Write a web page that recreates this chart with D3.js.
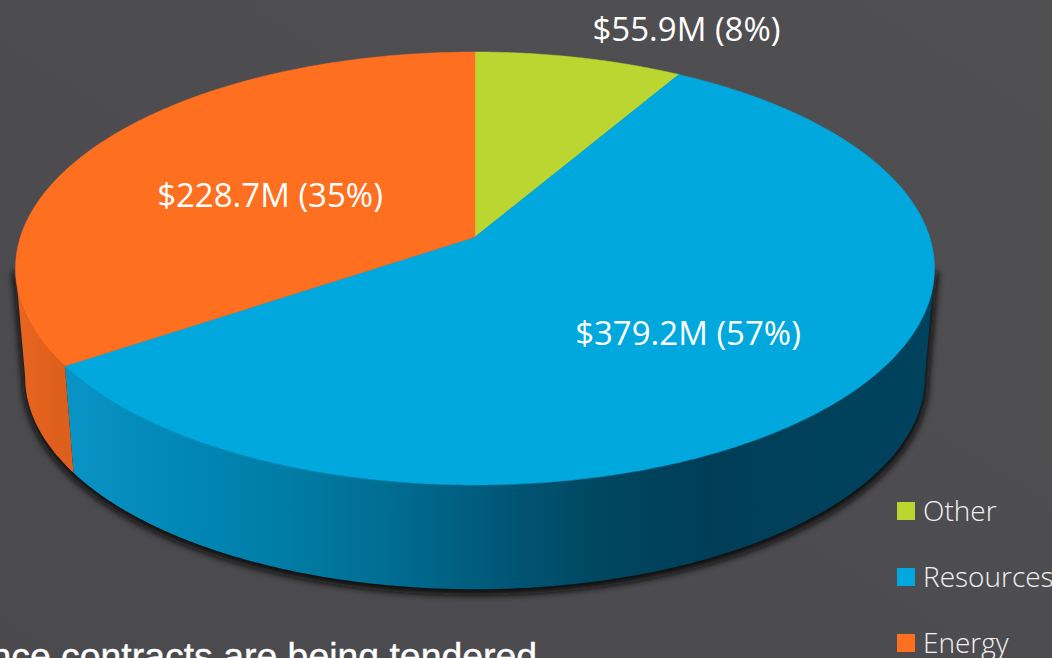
<!DOCTYPE html>
<html><head><meta charset="utf-8">
<script src="https://cdn.jsdelivr.net/npm/d3@7"></script>
<style>html,body{margin:0;padding:0;background:#4d4c50;overflow:hidden}svg{display:block}</style>
</head><body><div id="c"></div>
<script>
const categories = ["Other","Resources","Energy"];
const values = [55.9,379.2,228.7];
const labels = ["$55.9M (8%)","$379.2M (57%)","$228.7M (35%)"];
const colors = ["#bcd631","#00a8de","#ff6f20"];
const wallStops = {Resources:[["#0a93c6",0],["#0086b4",.15],["#007ba3",.27],["#006a8f",.39],["#005878",.5],["#00465f",.62],["#003e58",.74],["#00435f",1]],
                   Energy:[["#e8651f",0],["#dd5f1c",1]]};
const W=1052,H=658;
const svg=d3.select("#c").append("svg").attr("width",W).attr("height",H);
const defs=svg.append("defs");
const bg=defs.append("linearGradient").attr("id","bg").attr("x1",0).attr("x2",1).attr("y1",1).attr("y2",0);
bg.append("stop").attr("offset",0).attr("stop-color","#4a494d");
bg.append("stop").attr("offset",1).attr("stop-color","#504f52");
svg.append("rect").attr("width",W).attr("height",H).attr("fill","url(#bg)");
defs.append("filter").attr("id","blur").attr("x","-10%").attr("y","-10%").attr("width","120%").attr("height","120%")
  .append("feGaussianBlur").attr("stdDeviation",3.5);
// perspective projection of a unit disc
const cx=475,apexY=237,A=454.6,a=177.4,c=-0.1455;
const vpY=5450,depth=0.979;
function upper([u,v]){const w=c*v+1;return [cx+A*u/w,(a*v+apexY)/w];}
function lower(p){const q=upper(p);return [cx+(q[0]-cx)*depth,vpY+(q[1]-vpY)*depth];}
const ang=t=>[Math.sin(t),-Math.cos(t)];
const pie=d3.pie().sort(null).value(d=>d)(values);
const line=d3.line();
const N=d=>Math.max(8,Math.ceil((d.endAngle-d.startAngle)*120));
const samples=d=>d3.range(N(d)+1).map(i=>d.startAngle+(d.endAngle-d.startAngle)*i/N(d));
const front=t=>Math.cos(t)<=c+0.002;
const wallPts=ts=>ts.map(t=>upper(ang(t))).concat(ts.slice().reverse().map(t=>lower(ang(t))));
// shadow
const whole=samples({startAngle:0,endAngle:2*Math.PI}).filter(front);
svg.append("path").attr("d",line(wallPts(whole).map(p=>[p[0]+0.5,p[1]+3]))+"Z")
  .attr("fill","#0c0a0a").attr("stroke","#0c0a0a").attr("stroke-width",6).attr("filter","url(#blur)");
// walls
pie.forEach((d,i)=>{
  const cat=categories[i];
  if(!wallStops[cat])return;
  const ts=samples(d).filter(front);
  const g=defs.append("linearGradient").attr("id","w"+i).attr("gradientUnits","userSpaceOnUse")
    .attr("x1",d3.min(ts,t=>upper(ang(t))[0])).attr("x2",d3.max(ts,t=>upper(ang(t))[0])).attr("y1",0).attr("y2",0);
  wallStops[cat].forEach(s=>g.append("stop").attr("offset",s[1]).attr("stop-color",s[0]));
  svg.append("path").attr("d",line(wallPts(ts))+"Z").attr("fill",`url(#w${i})`);
});
// top faces
pie.forEach((d,i)=>{
  const pts=[upper([0,0])].concat(samples(d).map(t=>upper(ang(t))));
  svg.append("path").attr("d",line(pts)+"Z").attr("fill",colors[i]).attr("stroke",colors[i]).attr("stroke-width",.5);
});
// slice labels
const labelPos=[[686.5,41],[688,345],[270,207]];
labels.forEach((t,i)=>svg.append("text").attr("x",labelPos[i][0]).attr("y",labelPos[i][1])
  .attr("text-anchor","middle").attr("fill","#fff").attr("font-family","'Open Sans'").attr("font-size",33).text(t));
// legend
const legY=[511,577,643];
categories.forEach((k,i)=>{
  svg.append("rect").attr("x",897).attr("y",legY[i]-9).attr("width",18).attr("height",18).attr("fill",colors[i]);
  svg.append("text").attr("x",923).attr("y",legY[i]+10).attr("fill","#f2f2f2").attr("font-family","'Open Sans'")
    .attr("font-weight",300).attr("font-size",28).text(k);
});
svg.append("text").attr("x",-9.6).attr("y",669).attr("fill","#fff").attr("font-family","'Liberation Sans'")
  .attr("font-size",37.4).attr("stroke","#fff").attr("stroke-width",.4).text("nce contracts are being tendered");
svg.append("text").attr("x",-7).attr("y",82).attr("fill","#ddd").attr("font-family","'Open Sans'").attr("font-size",24).text(")");
</script></body></html>
